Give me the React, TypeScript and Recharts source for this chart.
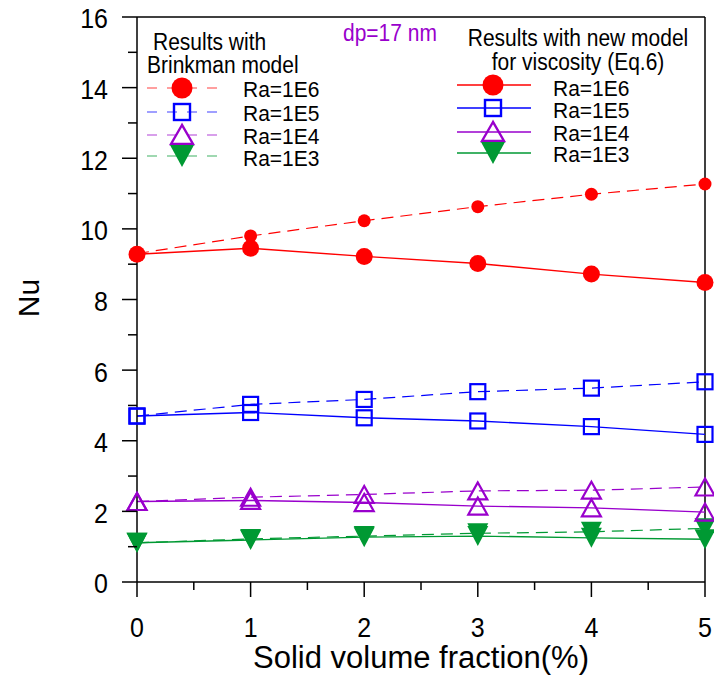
import React from 'react'
import { LineChart, Line, XAxis, YAxis, ReferenceLine } from 'recharts'

// solid volume fraction (%)
const phi = [0, 1, 2, 3, 4, 5]

// Brinkman model (dashed)
const brinkman1E6 = [9.3, 9.8, 10.23, 10.63, 10.98, 11.27]
const brinkman1E5 = [4.7, 5.03, 5.17, 5.39, 5.49, 5.67]
const brinkman1E4 = [2.28, 2.4, 2.48, 2.58, 2.6, 2.69]
const brinkman1E3 = [1.11, 1.22, 1.3, 1.38, 1.42, 1.52]

// new viscosity model, Eq.6 (solid)
const newModel1E6 = [9.28, 9.45, 9.22, 9.02, 8.72, 8.48]
const newModel1E5 = [4.7, 4.8, 4.65, 4.56, 4.4, 4.18]
const newModel1E4 = [2.28, 2.31, 2.25, 2.15, 2.1, 1.98]
const newModel1E3 = [1.11, 1.19, 1.27, 1.3, 1.25, 1.21]

const xTicks = [0, 0.5, 1, 1.5, 2, 2.5, 3, 3.5, 4, 4.5, 5]
const yTicks = [0, 1, 2, 3, 4, 5, 6, 7, 8, 9, 10, 11, 12, 13, 14, 15, 16]
const raLabels = ['Ra=1E6', 'Ra=1E5', 'Ra=1E4', 'Ra=1E3']

const RED = '#FF0000'
const BLUE = '#0000FF'
const PURPLE = '#9900CC'
const GREEN = '#009933'
const FONT = '"Liberation Sans", Arial, sans-serif'
const STRETCH = 1.12 // the source text is a bit taller than it is wide

const data = phi.map((p, i) => ({
  phi: p,
  b6: brinkman1E6[i], b5: brinkman1E5[i], b4: brinkman1E4[i], b3: brinkman1E3[i],
  n6: newModel1E6[i], n5: newModel1E5[i], n4: newModel1E4[i], n3: newModel1E3[i],
}))

// text drawn a little taller than normal, anchored at (x, y)
function SText({ x, y, size, anchor = 'start', fill = '#000', k = STRETCH, children }: any) {
  return (
    <text transform={`translate(${x},${y}) scale(1,${k})`} x={0} y={0} fontSize={size} fontFamily={FONT}
      textAnchor={anchor} dominantBaseline="central" fill={fill}>{children}</text>
  )
}

// marker shapes
const circle = (r: number) => (p: any) =>
  <circle key={p.index} cx={p.cx} cy={p.cy} r={r} fill={RED} stroke="none" />

const square = (s: number) => (p: any) =>
  <rect key={p.index} x={p.cx - s / 2} y={p.cy - s / 2} width={s} height={s} fill="none" stroke={BLUE} strokeWidth={2.2} />

const triUp = (w: number, h: number) => (p: any) =>
  <polygon key={p.index} points={`${p.cx},${p.cy - h / 2} ${p.cx - w / 2},${p.cy + h / 2} ${p.cx + w / 2},${p.cy + h / 2}`}
    fill="none" stroke={PURPLE} strokeWidth={2.2} />

const triDown = (w: number, h: number) => (p: any) =>
  <polygon key={p.index} points={`${p.cx - w / 2},${p.cy - h / 2} ${p.cx + w / 2},${p.cy - h / 2} ${p.cx},${p.cy + h / 2}`}
    fill={GREEN} stroke="none" />

function YTick({ x, y, payload }: any) {
  const major = payload.value % 2 === 0
  return (
    <g>
      <line x1={x - (major ? 15 : 9)} x2={x} y1={y} y2={y} stroke="#000" strokeWidth={1.5} />
      {major && <SText x={x - 29} y={y + 2} size={25} anchor="end">{payload.value}</SText>}
    </g>
  )
}

function XTick({ x, y, payload }: any) {
  const major = Number.isInteger(payload.value)
  return (
    <g>
      <line x1={x} x2={x} y1={y} y2={y + (major ? 15 : 8)} stroke="#000" strokeWidth={1.5} />
      {major && <SText x={x} y={y + 46} size={25} anchor="middle">{payload.value}</SText>}
    </g>
  )
}

function LegendMarker({ i, cx, cy }: { i: number; cx: number; cy: number }) {
  if (i === 0) return <circle cx={cx} cy={cy} r={10.5} fill={RED} />
  if (i === 1) return <rect x={cx - 8} y={cy - 8} width={16} height={16} fill="none" stroke={BLUE} strokeWidth={2.4} />
  if (i === 2) return <polygon points={`${cx},${cy - 10} ${cx - 11},${cy + 9} ${cx + 11},${cy + 9}`} fill="none" stroke={PURPLE} strokeWidth={2.4} />
  return <polygon points={`${cx - 12},${cy - 11} ${cx + 12},${cy - 11} ${cx},${cy + 11}`} fill={GREEN} />
}

const colors = [RED, BLUE, PURPLE, GREEN]

export default function App() {
  const leftRows = [88, 112, 135, 156]
  const rightRows = [85, 108, 132, 153]
  const leftText = [89, 113, 136, 158]
  const rightText = [88, 110, 133, 154]

  return (
    <div style={{ position: 'absolute', left: 0, top: 0, width: 714, height: 677, background: '#fff' }}>
      <LineChart width={714} height={677} data={data} margin={{ top: 17, right: 9, bottom: 0, left: 0 }}>
        <XAxis dataKey="phi" type="number" domain={[0, 5]} ticks={xTicks} height={95}
          axisLine={{ stroke: '#000', strokeWidth: 1.5 }} tickLine={false} tickSize={0} tickMargin={0}
          tick={<XTick />} interval={0} />
        <YAxis type="number" domain={[0, 16]} ticks={yTicks} width={137}
          axisLine={{ stroke: '#000', strokeWidth: 1.5 }} tickLine={false} tickSize={0} tickMargin={0}
          tick={<YTick />} interval={0} />
        <ReferenceLine y={16} stroke="#000" strokeWidth={1.5} />
        <ReferenceLine x={5} stroke="#000" strokeWidth={1.5} />

        <Line dataKey="b6" stroke={RED} strokeWidth={1.2} strokeDasharray="12 7" dot={circle(6.5)} isAnimationActive={false} />
        <Line dataKey="b5" stroke={BLUE} strokeWidth={1.2} strokeDasharray="12 7" dot={square(15)} isAnimationActive={false} />
        <Line dataKey="b4" stroke={PURPLE} strokeWidth={1.2} strokeDasharray="12 7" dot={triUp(19, 17)} isAnimationActive={false} />
        <Line dataKey="b3" stroke={GREEN} strokeWidth={1.2} strokeDasharray="12 7" dot={triDown(21, 20)} isAnimationActive={false} />

        <Line dataKey="n6" stroke={RED} strokeWidth={1.4} dot={circle(8.5)} isAnimationActive={false} />
        <Line dataKey="n5" stroke={BLUE} strokeWidth={1.4} dot={square(15)} isAnimationActive={false} />
        <Line dataKey="n4" stroke={PURPLE} strokeWidth={1.4} dot={triUp(19, 17)} isAnimationActive={false} />
        <Line dataKey="n3" stroke={GREEN} strokeWidth={1.4} dot={triDown(21, 20)} isAnimationActive={false} />
      </LineChart>

      {/* legends, annotation and axis titles */}
      <svg width={714} height={677} style={{ position: 'absolute', left: 0, top: 0, pointerEvents: 'none' }}>
        <SText x={153} y={42} size={21}>Results with</SText>
        <SText x={147} y={65} size={21}>Brinkman model</SText>
        {raLabels.map((label, i) => (
          <g key={'l' + label}>
            <line x1={147} x2={217} y1={leftRows[i]} y2={leftRows[i]} stroke={colors[i]} strokeWidth={1.2} strokeDasharray="10 10" opacity={0.75} />
            <LegendMarker i={i} cx={182} cy={leftRows[i]} />
            <SText x={243} y={leftText[i]} size={21} k={1.06}>{label}</SText>
          </g>
        ))}

        <SText x={343} y={33} size={21} fill={PURPLE}>dp=17 nm</SText>

        <SText x={578} y={38} size={21} anchor="middle">Results with new model</SText>
        <SText x={578} y={62} size={21} anchor="middle">for viscosity (Eq.6)</SText>
        {raLabels.map((label, i) => (
          <g key={'r' + label}>
            <line x1={457} x2={531} y1={rightRows[i]} y2={rightRows[i]} stroke={colors[i]} strokeWidth={1.4} />
            <LegendMarker i={i} cx={493} cy={rightRows[i]} />
            <SText x={553} y={rightText[i]} size={21} k={1.06}>{label}</SText>
          </g>
        ))}

        <text x={0} y={0} fontSize={30} fontFamily={FONT} textAnchor="middle" dominantBaseline="central"
          transform="translate(28,298) rotate(-90)">Nu</text>
        <SText x={421} y={657} size={31} anchor="middle" k={1}>Solid volume fraction(%)</SText>
      </svg>
    </div>
  )
}
